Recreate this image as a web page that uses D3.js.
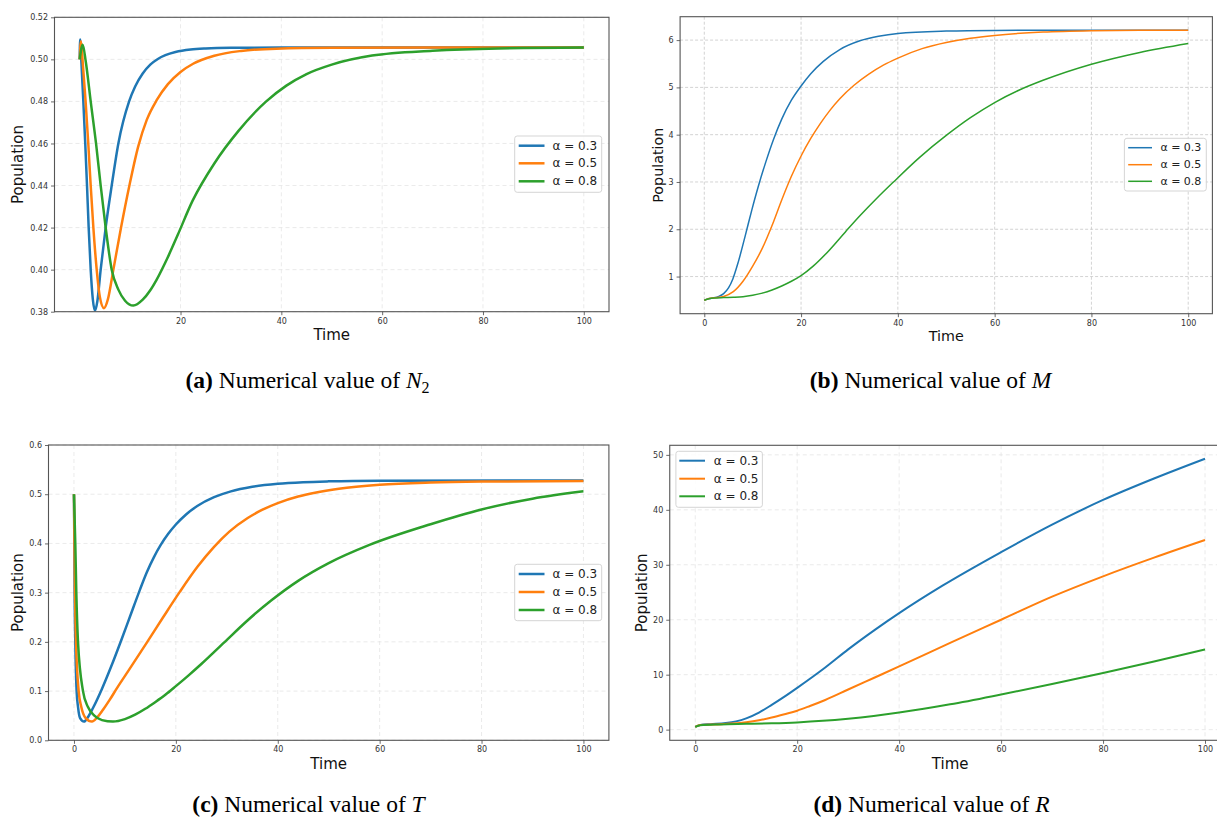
<!DOCTYPE html>
<html>
<head>
<meta charset="utf-8">
<script src="https://cdn.jsdelivr.net/npm/d3@7/dist/d3.min.js"></script>
<style>
  html, body { margin: 0; padding: 0; background: #ffffff; }
  svg { display: block; }
</style>
</head>
<body>
<svg id="chart" width="1217" height="818"></svg>
<script>
// ---------------- DATA ----------------
const alphaLabels = ["α = 0.3", "α = 0.5", "α = 0.8"];
const seriesColors = ["#1f77b4", "#ff7f0e", "#2ca02c"];

// (a) N2
const n2Alpha03 = [[0,0.500],[0.08,0.5095],[0.35,0.498],[0.72,0.480],[1.1,0.460],[1.45,0.440],[1.78,0.420],[2.18,0.400],[2.6,0.386],[3.04,0.3805],[3.5,0.385],[4.16,0.400],[5.15,0.420],[6.35,0.440],[7.67,0.460],[9.8,0.480],[11,0.4871],[12.5,0.4933],[14,0.4975],[15.5,0.5002],[17,0.5020],[19,0.5035],[22,0.5047],[25,0.5052],[30,0.5055],[40,0.5056],[60,0.5056],[80,0.5056],[100,0.5056]];
const n2Alpha05 = [[0,0.500],[0.26,0.5086],[0.6,0.4985],[1.17,0.480],[1.7,0.460],[2.18,0.440],[2.71,0.420],[3.37,0.400],[4.0,0.387],[4.82,0.3817],[5.6,0.386],[6.68,0.400],[8.2,0.420],[9.86,0.440],[11.6,0.4585],[13.3,0.4712],[15.3,0.4807],[17.5,0.4882],[20,0.4940],[22.5,0.4979],[26.7,0.5017],[32,0.5040],[39,0.5051],[50,0.5055],[70,0.5056],[100,0.5056]];
const n2Alpha08 = [[0,0.500],[0.59,0.507],[1.2,0.499],[2.18,0.480],[3.24,0.460],[4.16,0.440],[5.15,0.420],[6.35,0.400],[7.67,0.3905],[9,0.3852],[10.64,0.3829],[12.5,0.3857],[14,0.3902],[15.3,0.3954],[17.5,0.4060],[19.5,0.4168],[22.4,0.4328],[26.7,0.4505],[31.5,0.4660],[37,0.4800],[41,0.4875],[45,0.4930],[50,0.4975],[58,0.5018],[70,0.5041],[83,0.5052],[100,0.5056]];
const n2YTicks = [0.38,0.40,0.42,0.44,0.46,0.48,0.50,0.52];
const n2XTicks = [20,40,60,80,100];

// (b) M
const mAlpha03 = [[0,0.50],[1,0.535],[2,0.55],[3,0.58],[4,0.64],[5,0.76],[5.9,0.95],[7,1.30],[8.43,1.85],[9.8,2.40],[11.2,2.92],[12.7,3.42],[14.3,3.90],[16,4.33],[18,4.73],[20,5.03],[22,5.29],[24.6,5.55],[28,5.80],[32,5.98],[36,6.08],[40,6.14],[50,6.19],[60,6.205],[80,6.21],[100,6.21]];
const mAlpha05 = [[0,0.50],[1,0.535],[2,0.55],[4,0.58],[6,0.68],[8,0.90],[10,1.22],[12,1.60],[14,2.08],[16,2.62],[18,3.12],[20,3.55],[22,3.92],[24,4.24],[26,4.52],[28,4.76],[31,5.05],[34,5.28],[37,5.47],[40,5.62],[45,5.82],[50,5.95],[55,6.04],[60,6.10],[70,6.17],[80,6.20],[90,6.21],[100,6.21]];
const mAlpha08 = [[0,0.50],[1,0.53],[2,0.545],[4,0.555],[6,0.562],[8,0.575],[10,0.605],[12,0.65],[14,0.715],[16,0.80],[18,0.90],[20,1.02],[22.5,1.22],[25.3,1.50],[29.2,1.95],[32.2,2.29],[35.5,2.64],[39.1,3.0],[44.5,3.52],[50.2,4.0],[55,4.36],[60,4.68],[65,4.94],[70,5.15],[80,5.49],[90,5.74],[100,5.93]];
const mYTicks = [1,2,3,4,5,6];
const mXTicks = [0,20,40,60,80,100];

// (c) T
const tAlpha03 = [[0,0.500],[0.07,0.40],[0.13,0.30],[0.26,0.20],[0.52,0.10],[0.8,0.0675],[1.2,0.045],[1.96,0.038],[2.8,0.048],[3.73,0.0657],[5.4,0.1024],[7.3,0.1499],[9.3,0.2039],[11,0.2515],[12.9,0.3047],[14.3,0.3415],[15.7,0.3723],[17,0.3964],[18.5,0.4195],[20,0.4385],[22,0.4589],[24.2,0.476],[27.5,0.4939],[30.8,0.5057],[35,0.515],[40,0.5212],[45,0.5244],[50,0.5261],[60,0.5275],[100,0.528]];
const tAlpha05 = [[0,0.500],[0.1,0.40],[0.2,0.30],[0.4,0.20],[0.92,0.10],[1.44,0.0675],[2.3,0.045],[3.53,0.038],[4.6,0.047],[5.7,0.062],[7,0.082],[8.5,0.107],[10.6,0.140],[12.5,0.170],[14.2,0.197],[17.5,0.250],[20.8,0.302],[24.2,0.352],[27.5,0.393],[30.5,0.4239],[34.1,0.4516],[37,0.4685],[40,0.482],[44,0.4953],[47.3,0.5031],[52,0.5112],[60,0.5192],[70,0.5237],[80,0.5257],[100,0.527]];
const tAlpha08 = [[0,0.500],[0.26,0.40],[0.46,0.30],[0.79,0.20],[1.77,0.10],[2.75,0.0675],[4,0.050],[5.5,0.041],[7.66,0.038],[10,0.043],[12,0.052],[14,0.064],[16,0.078],[18,0.093],[20,0.110],[22.5,0.132],[25,0.155],[29.5,0.199],[34,0.243],[38.7,0.284],[44,0.324],[50,0.360],[58,0.397],[70,0.439],[80,0.469],[90,0.491],[100,0.506]];
const tYTicks = [0.0,0.1,0.2,0.3,0.4,0.5,0.6];
const tXTicks = [0,20,40,60,80,100];

// (d) R
const rAlpha03 = [[0,0.5],[1,0.85],[3,1.0],[6,1.2],[8,1.5],[10,2.05],[12.5,3.1],[15,4.5],[17.5,6.0],[20,7.6],[25.5,11.3],[30,14.6],[35.3,18.2],[40,21.2],[48.5,26.2],[60,32.3],[70,37.3],[80,41.8],[90,45.7],[100,49.3]];
const rAlpha05 = [[0,0.5],[1,0.85],[5,1.0],[10,1.35],[12.5,1.7],[15,2.2],[17.5,2.8],[20,3.45],[22.5,4.3],[25.5,5.4],[30,7.3],[35,9.4],[40,11.5],[50,15.8],[60,20.0],[70,24.2],[80,27.9],[90,31.3],[100,34.5]];
const rAlpha08 = [[0,0.5],[1,0.8],[5,0.95],[10,1.05],[15,1.15],[20,1.32],[25,1.6],[30,2.0],[35,2.5],[40,3.1],[50,4.6],[60,6.4],[70,8.3],[80,10.3],[90,12.4],[100,14.6]];
const rYTicks = [0,10,20,30,40,50];
const rXTicks = [0,20,40,60,80,100];

// ---------------- LAYOUT ----------------
const panels = [
  { id:"a", series:[n2Alpha03,n2Alpha05,n2Alpha08], xTicks:n2XTicks, yTicks:n2YTicks, fmt:d3.format(".2f"),
    x0:54.5, x1:609, y0:17.3, y1:311.7, xDomain:[-5,105], yDomain:[0.38,0.52],
    lw:2.5, gridColor:"#e4e4e4", gridDash:"4,3", labelSize:15, xLabelY:340, yLabelX:18,
    legend:{x:514.7, y:136, w:87, h:56.3, rows:[145.7,163.3,181.3], lx0:518.7, lx1:544.5, tx:552.5, fs:12},
    caption:{cx:307.5, y:388, letter:"(a)", varName:"N", sub:"2"} },
  { id:"b", series:[mAlpha03,mAlpha05,mAlpha08], xTicks:mXTicks, yTicks:mYTicks, fmt:d3.format("d"),
    x0:680.1, x1:1212.4, y0:16.7, y1:313.7, xDomain:[-5,105], yDomain:[0.2145,6.495],
    lw:1.5, gridColor:"#c8c8c8", gridDash:"3,2", labelSize:14.3, xLabelY:341, yLabelX:658.3,
    legend:{x:1124.4, y:138.3, w:81.9, h:52.7, rows:[147.7,164.7,181.3], lx0:1128.2, lx1:1152, tx:1160.4, fs:11},
    caption:{cx:930.5, y:388, letter:"(b)", varName:"M", sub:null} },
  { id:"c", series:[tAlpha03,tAlpha05,tAlpha08], xTicks:tXTicks, yTicks:tYTicks, fmt:d3.format(".1f"),
    x0:48.5, x1:608.9, y0:445, y1:740.3, xDomain:[-5,105], yDomain:[0,0.6],
    lw:2.5, gridColor:"#e4e4e4", gridDash:"4,3", labelSize:15, xLabelY:768.5, yLabelX:18,
    legend:{x:514.7, y:564.3, w:87, h:56.4, rows:[574,592,610], lx0:518.7, lx1:544.5, tx:552.5, fs:12},
    caption:{cx:308.5, y:812, letter:"(c)", varName:"T", sub:null} },
  { id:"d", series:[rAlpha03,rAlpha05,rAlpha08], xTicks:rXTicks, yTicks:rYTicks, fmt:d3.format("d"),
    x0:669.75, x1:1230.5, y0:445.3, y1:740.3, xDomain:[-5,105], yDomain:[-1.94,51.74],
    lw:2.0, gridColor:"#e4e4e4", gridDash:"4,3", labelSize:15, xLabelY:768.5, yLabelX:641.8,
    legend:{x:675.9, y:451.3, w:86.5, h:56, rows:[460.7,478.7,496.3], lx0:679.3, lx1:705, tx:713.8, fs:12},
    caption:{cx:931.5, y:812, letter:"(d)", varName:"R", sub:null} }
];

const svg = d3.select("#chart");
const defs = svg.append("defs");

panels.forEach(p => {
  const x = d3.scaleLinear().domain(p.xDomain).range([p.x0, p.x1]);
  const y = d3.scaleLinear().domain(p.yDomain).range([p.y1, p.y0]);
  const g = svg.append("g").attr("class", "panel-" + p.id);

  defs.append("clipPath").attr("id", "clip-" + p.id)
    .append("rect").attr("x", p.x0).attr("y", p.y0)
    .attr("width", p.x1 - p.x0).attr("height", p.y1 - p.y0);

  // grid
  const grid = g.append("g").attr("class", "grid");
  grid.selectAll("line.gx").data(p.xTicks).join("line")
    .attr("x1", d => x(d)).attr("x2", d => x(d)).attr("y1", p.y0).attr("y2", p.y1)
    .attr("stroke", p.gridColor).attr("stroke-width", 0.8).attr("stroke-dasharray", p.gridDash);
  grid.selectAll("line.gy").data(p.yTicks).join("line")
    .attr("x1", p.x0).attr("x2", p.x1).attr("y1", d => y(d)).attr("y2", d => y(d))
    .attr("stroke", p.gridColor).attr("stroke-width", 0.8).attr("stroke-dasharray", p.gridDash);

  // lines
  const line = d3.line().x(d => x(d[0])).y(d => y(d[1])).curve(d3.curveMonotoneX);
  g.append("g").attr("clip-path", "url(#clip-" + p.id + ")")
    .selectAll("path").data(p.series).join("path")
    .attr("d", line).attr("fill", "none")
    .attr("stroke", (d, i) => seriesColors[i]).attr("stroke-width", p.lw)
    .attr("stroke-linejoin", "round").attr("stroke-linecap", "butt");

  // frame
  g.append("rect").attr("x", p.x0).attr("y", p.y0)
    .attr("width", p.x1 - p.x0).attr("height", p.y1 - p.y0)
    .attr("fill", "none").attr("stroke", "#555").attr("stroke-width", 1.1);

  // axes
  const xa = g.append("g").attr("transform", `translate(0,${p.y1})`)
    .call(d3.axisBottom(x).tickValues(p.xTicks).tickSize(3.5).tickPadding(3).tickFormat(d3.format("d")));
  const ya = g.append("g").attr("transform", `translate(${p.x0},0)`)
    .call(d3.axisLeft(y).tickValues(p.yTicks).tickSize(3.5).tickPadding(3).tickFormat(p.fmt));
  [xa, ya].forEach(a => {
    a.select(".domain").remove();
    a.selectAll(".tick line").attr("stroke", "#444").attr("stroke-width", 0.8);
    a.selectAll(".tick text").attr("fill", "#333")
      .style("font-family", "'DejaVu Sans', sans-serif").style("font-size", "8px");
  });

  // axis labels
  g.append("text").attr("x", (p.x0 + p.x1) / 2).attr("y", p.xLabelY)
    .attr("text-anchor", "middle").attr("fill", "#111")
    .style("font-family", "'DejaVu Sans', sans-serif").style("font-size", p.labelSize + "px")
    .text("Time");
  g.append("text").attr("transform", `translate(${p.yLabelX},${(p.y0 + p.y1) / 2}) rotate(-90)`)
    .attr("text-anchor", "middle").attr("dominant-baseline", "central").attr("fill", "#111")
    .style("font-family", "'DejaVu Sans', sans-serif").style("font-size", p.labelSize + "px")
    .text("Population");

  // legend
  const L = p.legend;
  const lg = g.append("g").attr("class", "legend");
  lg.append("rect").attr("x", L.x).attr("y", L.y).attr("width", L.w).attr("height", L.h)
    .attr("rx", 2.5).attr("fill", "#fff").attr("fill-opacity", 0.85)
    .attr("stroke", "#d0d0d0").attr("stroke-width", 0.9);
  alphaLabels.forEach((lab, i) => {
    lg.append("line").attr("x1", L.lx0).attr("x2", L.lx1).attr("y1", L.rows[i]).attr("y2", L.rows[i])
      .attr("stroke", seriesColors[i]).attr("stroke-width", p.lw);
    lg.append("text").attr("x", L.tx).attr("y", L.rows[i]).attr("dominant-baseline", "central")
      .attr("fill", "#222").style("font-family", "'DejaVu Sans', sans-serif")
      .style("font-size", L.fs + "px").text(lab);
  });

  // caption
  const C = p.caption;
  const cap = svg.append("text").attr("x", C.cx).attr("y", C.y).attr("text-anchor", "middle")
    .attr("fill", "#000").style("font-family", "'Liberation Serif', 'Times New Roman', serif")
    .style("font-size", "23.5px");
  cap.append("tspan").style("font-weight", "bold").text(C.letter);
  cap.append("tspan").text(" Numerical value of ");
  cap.append("tspan").style("font-style", "italic").text(C.varName);
  if (C.sub) {
    cap.append("tspan").attr("dy", 5).style("font-size", "16px").text(C.sub);
  }
});
</script>
</body>
</html>
